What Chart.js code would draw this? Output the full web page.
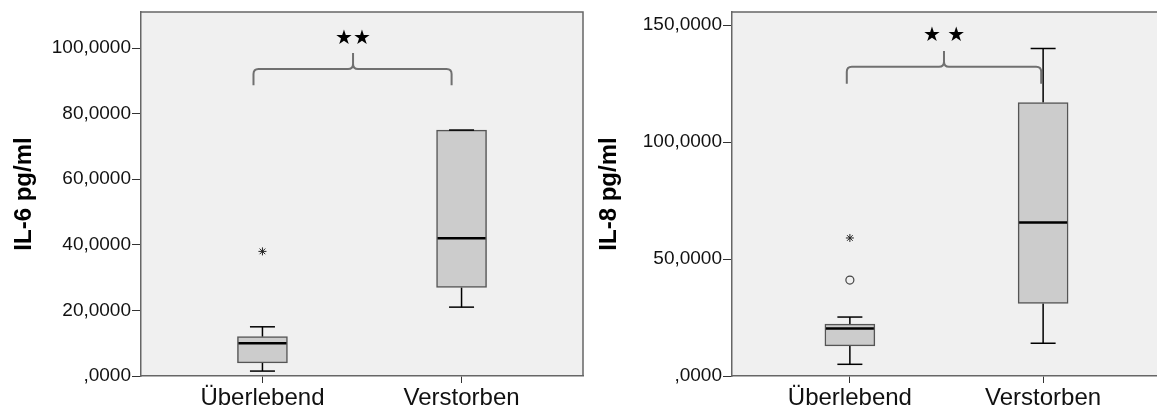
<!DOCTYPE html>
<html>
<head>
<meta charset="utf-8">
<script src="https://cdn.jsdelivr.net/npm/chart.js@4/dist/chart.umd.min.js"></script>
<style>
  body { margin: 0; background: #fff; overflow: hidden; width: 1157px; height: 412px; position: relative; }
  canvas { position: absolute; top: 0; }
</style>
</head>
<body>
<canvas id="il6Chart" width="585" height="412" style="left:0"></canvas>
<canvas id="il8Chart" width="580" height="412" style="left:585px"></canvas>
<script>
const categories = ['Überlebend', 'Verstorben'];

// IL-6 box plot summary per group
const il6Min = [1.5, 21];
const il6Q1 = [4, 27];
const il6Median = [10, 42];
const il6Q3 = [12, 75];
const il6Max = [15, 75];
const il6Extremes = [38, null];
const il6Outliers = [null, null];
const il6Ticks = [0, 20, 40, 60, 80, 100];
const il6TickLabels = [',0000', '20,0000', '40,0000', '60,0000', '80,0000', '100,0000'];

// IL-8 box plot summary per group
const il8Min = [5, 14];
const il8Q1 = [12.9, 31];
const il8Median = [20.3, 65.6];
const il8Q3 = [22.2, 116.9];
const il8Max = [25.2, 140];
const il8Extremes = [59, null];
const il8Outliers = [41, null];
const il8Ticks = [0, 50, 100, 150];
const il8TickLabels = [',0000', '50,0000', '100,0000', '150,0000'];

const frame = '#666666';

const plotBg = {
  id: 'plotBg',
  beforeDraw(chart) {
    const a = chart.chartArea, ctx = chart.ctx;
    ctx.save();
    ctx.fillStyle = '#f0f0f0';
    ctx.fillRect(a.left, a.top, a.right - a.left, a.bottom - a.top);
    ctx.restore();
  },
  afterDraw(chart) {
    const a = chart.chartArea, ctx = chart.ctx;
    ctx.save();
    ctx.strokeStyle = frame;
    ctx.lineWidth = 1.5;
    ctx.beginPath();
    ctx.moveTo(a.left, a.top);
    ctx.lineTo(a.right, a.top);
    ctx.lineTo(a.right, a.bottom);
    ctx.stroke();
    ctx.restore();
  }
};

const bracket = {
  id: 'bracket',
  afterDatasetsDraw(chart, args, o) {
    const xs = chart.scales.x, ys = chart.scales.y, ctx = chart.ctx;
    const X0 = xs.getPixelForValue(o.x0), X1 = xs.getPixelForValue(o.x1), XC = xs.getPixelForValue(o.xc);
    const YB = ys.getPixelForValue(o.yBottom), YH = ys.getPixelForValue(o.yBar), YT = ys.getPixelForValue(o.yTip);
    const r = 5;
    ctx.save();
    ctx.strokeStyle = '#707070';
    ctx.lineWidth = 2;
    ctx.beginPath();
    ctx.moveTo(X0, YB);
    ctx.lineTo(X0, YH + r);
    ctx.quadraticCurveTo(X0, YH, X0 + r, YH);
    ctx.lineTo(XC - r, YH);
    ctx.quadraticCurveTo(XC, YH, XC, YH - r);
    ctx.lineTo(XC, YT);
    ctx.moveTo(XC, YH - r);
    ctx.quadraticCurveTo(XC, YH, XC + r, YH);
    ctx.lineTo(X1 - r, YH);
    ctx.quadraticCurveTo(X1, YH, X1, YH + r);
    ctx.lineTo(X1, YB);
    ctx.stroke();
    ctx.fillStyle = '#000';
    ctx.font = '20px "DejaVu Sans"';
    ctx.textAlign = 'center';
    ctx.textBaseline = 'middle';
    ctx.fillText(o.text, XC, ys.getPixelForValue(o.yStars));
    ctx.restore();
  }
};

function pts(values) {
  return values.map((v, i) => ({ x: i, y: v }));
}

function stems(lo, q1, q3, hi) {
  const out = [];
  categories.forEach((c, i) => {
    out.push({ x: i, y: q3[i] }, { x: i, y: hi[i] }, { x: i, y: null });
    out.push({ x: i, y: q1[i] }, { x: i, y: lo[i] }, { x: i, y: null });
  });
  return out;
}

function noPad(axis) {
  axis.paddingTop = 0;
  axis.paddingBottom = 0;
  axis.paddingLeft = 0;
  axis.paddingRight = 0;
}

function makeChart(id, title, lo, q1, med, q3, hi, extremes, outliers, ticks, tickLabels, yMax, yWidth, padRight, br) {
  new Chart(document.getElementById(id), {
    data: {
      datasets: [
        {
          type: 'line', data: stems(lo, q1, q3, hi), borderColor: '#000', borderWidth: 1.5,
          pointRadius: 0, spanGaps: false, order: 5
        },
        {
          type: 'bar', data: categories.map((c, i) => ({ x: i, y: [q1[i], q3[i]] })),
          backgroundColor: '#cccccc', borderColor: '#555555', borderWidth: 1.5, borderSkipped: false,
          barThickness: 50, order: 4
        },
        {
          type: 'scatter', data: pts(hi).concat(pts(lo)), pointStyle: 'line', pointRadius: 12.5,
          borderColor: '#000', borderWidth: 1.5, order: 3
        },
        {
          type: 'scatter', data: pts(med), pointStyle: 'line', pointRadius: 24,
          borderColor: '#000', borderWidth: 2.5, order: 2
        },
        {
          type: 'scatter', data: pts(extremes), pointStyle: 'star', pointRadius: 4,
          borderColor: '#222', borderWidth: 1, order: 1
        },
        {
          type: 'scatter', data: pts(outliers), pointStyle: 'circle', pointRadius: 4,
          borderColor: '#444', backgroundColor: 'rgba(0,0,0,0)', borderWidth: 1.2, order: 1
        }
      ]
    },
    options: {
      responsive: false,
      animation: false,
      layout: { autoPadding: false, padding: { top: 12, right: padRight, left: 0, bottom: 0 } },
      plugins: {
        legend: { display: false },
        tooltip: { enabled: false },
        bracket: br
      },
      scales: {
        x: {
          type: 'linear', min: -0.61, max: 1.61, offset: false,
          afterBuildTicks: (axis) => { axis.ticks = categories.map((c, i) => ({ value: i })); },
          afterFit: (axis) => { axis.height = 36; noPad(axis); },
          grid: { offset: false, drawOnChartArea: false, drawTicks: true, tickLength: 7, color: '#333' },
          border: { color: frame, width: 1.5 },
          ticks: {
            callback: (v, i) => categories[i],
            font: { family: 'Liberation Sans, Arial', size: 24 }, color: '#111', padding: 1,
            maxRotation: 0, autoSkip: false
          }
        },
        y: {
          min: 0, max: yMax,
          afterBuildTicks: (axis) => { axis.ticks = ticks.map(v => ({ value: v })); },
          afterFit: (axis) => { axis.width = yWidth; noPad(axis); },
          grid: { drawOnChartArea: false, drawTicks: true, tickLength: 9, color: '#333' },
          border: { color: frame, width: 1.5 },
          ticks: {
            callback: (v, i) => tickLabels[i],
            font: { family: 'Liberation Sans, Arial', size: 19 }, color: '#111', padding: 1
          },
          title: {
            display: true, text: title, color: '#000',
            font: { family: 'Liberation Sans, Arial', size: 24, weight: 'bold' },
            padding: { top: 10, bottom: 0 }
          }
        }
      }
    },
    plugins: [plotBg, bracket]
  });
}

makeChart('il6Chart', 'IL-6 pg/ml', il6Min, il6Q1, il6Median, il6Q3, il6Max, il6Extremes, il6Outliers,
  il6Ticks, il6TickLabels, 111, 141, 2,
  { x0: -0.045, x1: 0.95, xc: 0.455, yBottom: 88.7, yBar: 93.6, yTip: 98.5, yStars: 102.7, text: '★★' });

makeChart('il8Chart', 'IL-8 pg/ml', il8Min, il8Q1, il8Median, il8Q3, il8Max, il8Extremes, il8Outliers,
  il8Ticks, il8TickLabels, 155.6, 147, 4,
  { x0: -0.016, x1: 0.99, xc: 0.487, yBottom: 124.9, yBar: 132.2, yTip: 138.9, yStars: 145.3, text: '★ ★' });
</script>
</body>
</html>
